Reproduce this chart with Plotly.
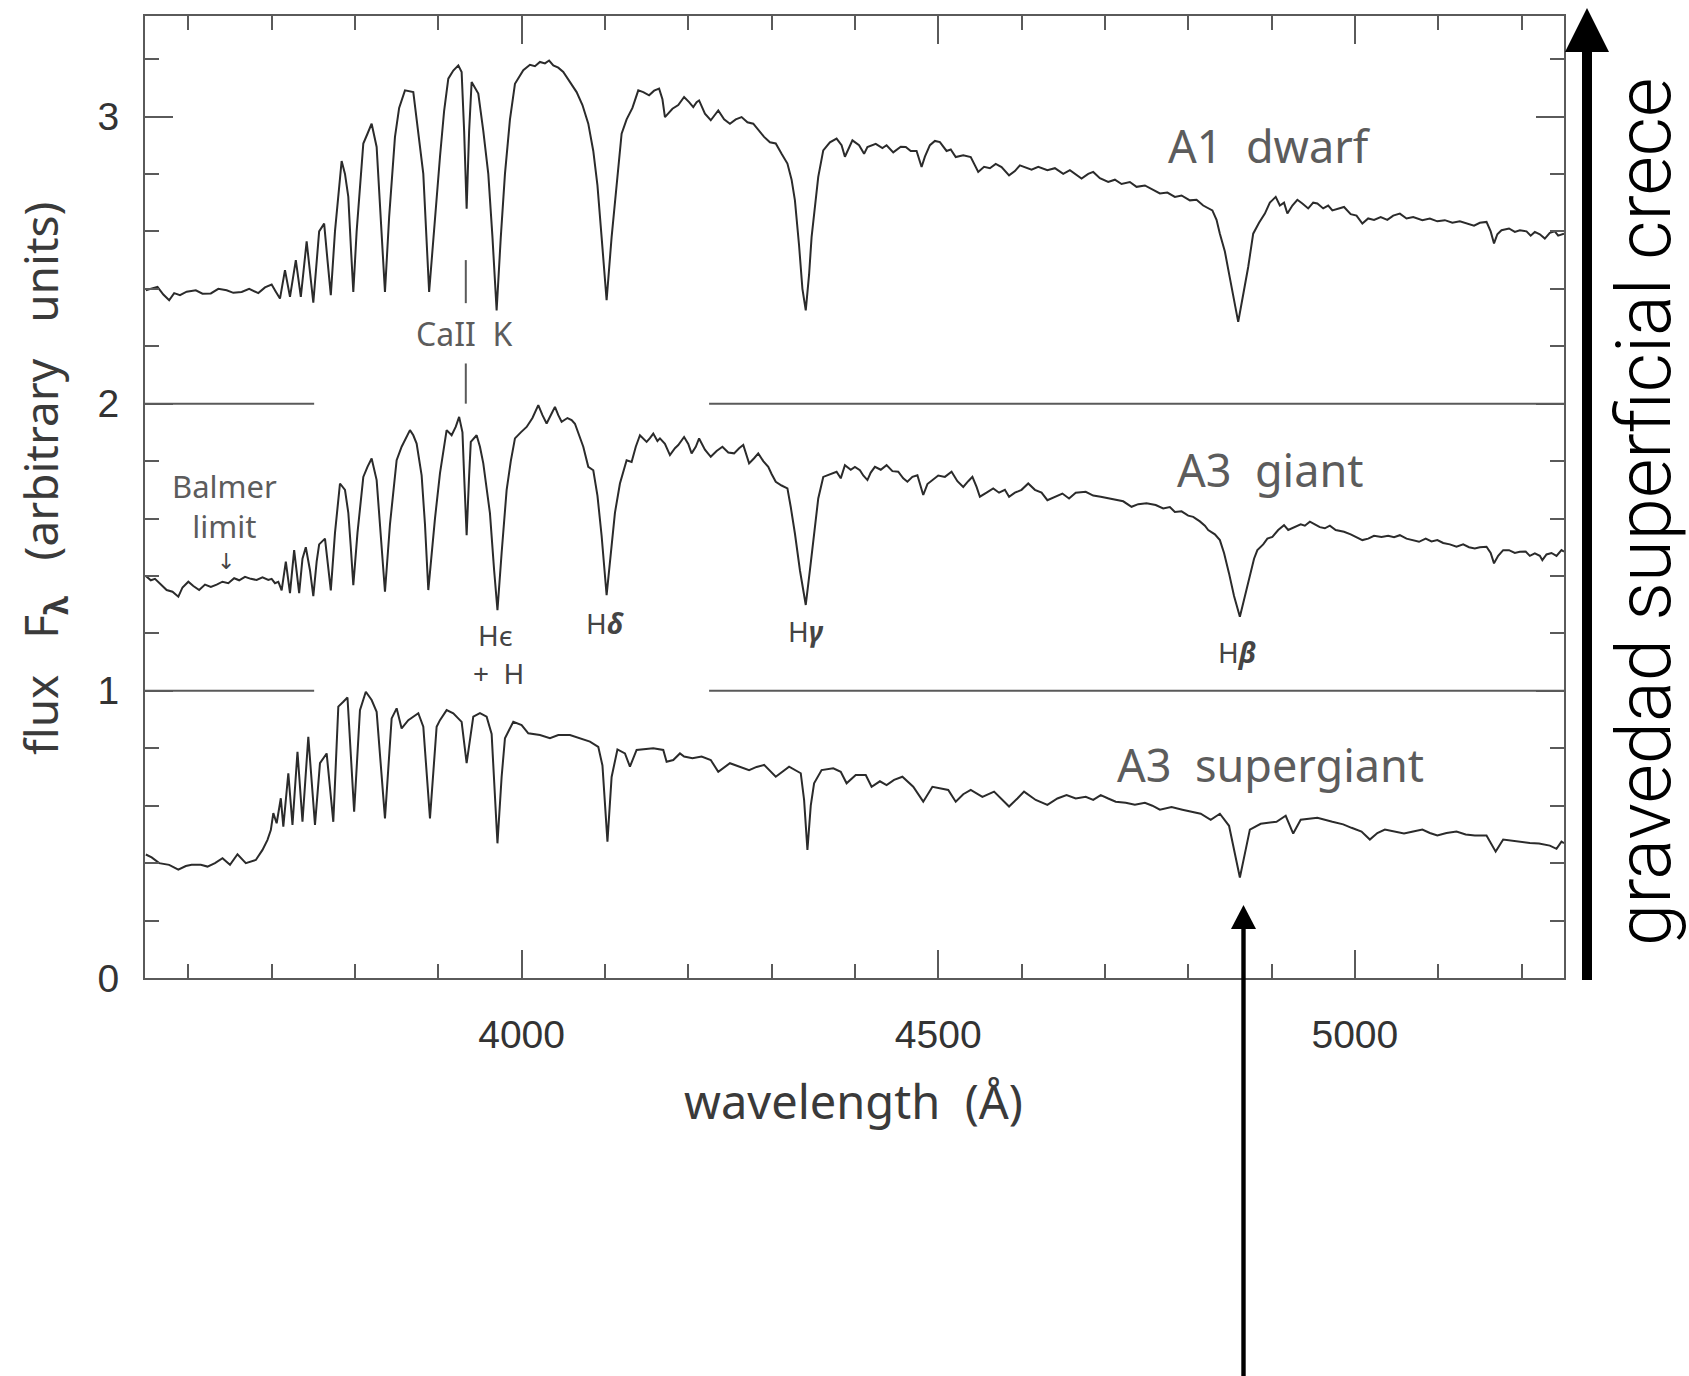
import plotly.graph_objects as go

# ---------------- data ----------------
lam_dwarf = [3549, 3556, 3563, 3570, 3577, 3583, 3590, 3598, 3609, 3617, 3627, 3636, 3646, 3654, 3664, 3673,
             3684, 3692, 3700, 3705, 3710, 3716, 3722, 3729, 3735, 3742, 3746, 3750, 3757, 3763, 3767, 3771,
             3776, 3784, 3788, 3792, 3795, 3798, 3802, 3810, 3815, 3820, 3826, 3831, 3836, 3841, 3848, 3853,
             3860, 3870, 3876, 3882, 3889, 3895, 3902, 3907, 3912, 3918, 3924, 3928, 3931, 3934, 3937, 3940,
             3948, 3954, 3960, 3965, 3970, 3975, 3980, 3986, 3992, 4002, 4010, 4016, 4022, 4028, 4033, 4038,
             4044, 4050, 4058, 4066, 4073, 4080, 4086, 4091, 4096, 4102, 4108, 4114, 4120, 4126, 4133, 4140,
             4146, 4153, 4159, 4165, 4169, 4172, 4176, 4181, 4188, 4195, 4201, 4206, 4210, 4213, 4220, 4227,
             4236, 4243, 4250, 4257, 4264, 4271, 4278, 4285, 4291, 4298, 4305, 4312, 4319, 4324, 4328, 4333,
             4337, 4341, 4345, 4348, 4351, 4356, 4362, 4370, 4378, 4384, 4388, 4397, 4405, 4411, 4415, 4425,
             4433, 4438, 4446, 4455, 4461, 4467, 4474, 4480, 4484, 4490, 4496, 4502, 4510, 4515, 4521, 4530,
             4539, 4544, 4548, 4555, 4562, 4569, 4576, 4585, 4592, 4598, 4603, 4612, 4620, 4631, 4640, 4650,
             4658, 4665, 4672, 4680, 4686, 4694, 4704, 4712, 4720, 4730, 4738, 4748, 4757, 4766, 4775, 4784,
             4792, 4802, 4810, 4818, 4829, 4834, 4838, 4844, 4849, 4855, 4860, 4866, 4872, 4878, 4885, 4892,
             4898, 4905, 4910, 4915, 4919, 4925, 4931, 4937, 4944, 4950, 4955, 4962, 4968, 4973, 4980, 4987,
             4995, 5002, 5009, 5016, 5023, 5031, 5039, 5046, 5054, 5062, 5070, 5081, 5090, 5099, 5108, 5117,
             5126, 5135, 5143, 5150, 5158, 5163, 5167, 5171, 5176, 5185, 5192, 5198, 5206, 5211, 5216, 5222,
             5228, 5234, 5240, 5244, 5251]
flux_dwarf = [2.395, 2.40, 2.407, 2.38, 2.36, 2.385, 2.378, 2.39, 2.395, 2.383, 2.384, 2.40, 2.395, 2.386, 2.389, 2.40,
              2.385, 2.405, 2.415, 2.39, 2.366, 2.465, 2.372, 2.50, 2.372, 2.565, 2.45, 2.352, 2.60, 2.627, 2.50, 2.378,
              2.60, 2.845, 2.80, 2.72, 2.55, 2.389, 2.60, 2.906, 2.94, 2.975, 2.894, 2.65, 2.389, 2.65, 2.929, 3.03,
              3.091, 3.085, 2.95, 2.80, 2.389, 2.62, 2.859, 3.02, 3.132, 3.16, 3.178, 3.155, 2.95, 2.679, 2.95, 3.12,
              3.08, 2.95, 2.80, 2.58, 2.325, 2.58, 2.80, 2.99, 3.114, 3.161, 3.18, 3.175, 3.19, 3.185, 3.195, 3.178,
              3.17, 3.155, 3.12, 3.085, 3.04, 2.975, 2.88, 2.76, 2.58, 2.36, 2.58, 2.77, 2.94, 2.99, 3.03, 3.091,
              3.085, 3.074, 3.09, 3.097, 3.06, 2.998, 3.01, 3.027, 3.04, 3.068, 3.05, 3.033, 3.05, 3.056, 3.01, 2.987,
              3.021, 2.99, 2.975, 2.99, 2.998, 2.98, 2.975, 2.95, 2.929, 2.91, 2.906, 2.87, 2.836, 2.78, 2.708, 2.55,
              2.40, 2.325, 2.45, 2.58, 2.662, 2.79, 2.882, 2.91, 2.923, 2.90, 2.86, 2.917, 2.90, 2.87, 2.894, 2.905,
              2.89, 2.90, 2.875, 2.895, 2.894, 2.88, 2.88, 2.824, 2.86, 2.90, 2.915, 2.911, 2.88, 2.885, 2.859, 2.865,
              2.859, 2.83, 2.807, 2.825, 2.82, 2.835, 2.824, 2.795, 2.81, 2.83, 2.824, 2.815, 2.825, 2.813, 2.82, 2.80,
              2.813, 2.80, 2.784, 2.80, 2.807, 2.785, 2.772, 2.78, 2.765, 2.772, 2.755, 2.76, 2.745, 2.732, 2.735, 2.72,
              2.725, 2.708, 2.71, 2.69, 2.673, 2.64, 2.592, 2.53, 2.453, 2.36, 2.285, 2.38, 2.476, 2.592, 2.63, 2.662,
              2.70, 2.72, 2.69, 2.70, 2.662, 2.69, 2.71, 2.697, 2.68, 2.70, 2.697, 2.68, 2.69, 2.673, 2.68, 2.685,
              2.66, 2.655, 2.627, 2.645, 2.64, 2.65, 2.64, 2.655, 2.662, 2.645, 2.65, 2.639, 2.645, 2.635, 2.639, 2.63,
              2.635, 2.627, 2.62, 2.63, 2.633, 2.60, 2.558, 2.59, 2.604, 2.61, 2.598, 2.604, 2.60, 2.585, 2.598, 2.59,
              2.575, 2.595, 2.60, 2.585, 2.592]

lam_giant = [3549, 3555, 3560, 3567, 3574, 3581, 3588, 3593, 3600, 3606, 3613, 3620, 3627, 3634, 3641, 3648,
             3655, 3661, 3668, 3675, 3682, 3689, 3696, 3700, 3704, 3708, 3712, 3717, 3722, 3727, 3733, 3737,
             3741, 3746, 3750, 3754, 3757, 3764, 3768, 3771, 3776, 3782, 3788, 3792, 3795, 3798, 3803, 3810,
             3815, 3820, 3826, 3831, 3836, 3842, 3850, 3856, 3861, 3866, 3870, 3874, 3880, 3884, 3888, 3893,
             3896, 3902, 3906, 3910, 3916, 3921, 3925, 3929, 3931, 3934, 3937, 3939, 3946, 3950, 3954, 3958,
             3962, 3967, 3971, 3976, 3982, 3987, 3992, 3999, 4006, 4013, 4020, 4025, 4030, 4036, 4040, 4044,
             4048, 4055, 4060, 4064, 4068, 4074, 4080, 4086, 4091, 4096, 4102, 4107, 4112, 4118, 4122, 4126,
             4132, 4137, 4142, 4150, 4154, 4158, 4163, 4166, 4172, 4178, 4184, 4188, 4195, 4200, 4204, 4209,
             4213, 4220, 4227, 4234, 4241, 4248, 4255, 4261, 4266, 4270, 4273, 4279, 4284, 4290, 4296, 4300,
             4305, 4312, 4319, 4323, 4328, 4334, 4341, 4346, 4351, 4356, 4362, 4370, 4378, 4383, 4388, 4395,
             4400, 4406, 4410, 4415, 4419, 4424, 4431, 4438, 4445, 4452, 4458, 4463, 4469, 4475, 4482, 4487,
             4493, 4500, 4508, 4516, 4523, 4530, 4536, 4541, 4546, 4550, 4558, 4566, 4573, 4580, 4585, 4592,
             4600, 4608, 4616, 4624, 4631, 4640, 4649, 4657, 4665, 4677, 4686, 4695, 4704, 4713, 4722, 4732,
             4740, 4750, 4761, 4770, 4778, 4784, 4792, 4800, 4806, 4814, 4820, 4824, 4832, 4838, 4843, 4849,
             4855, 4862, 4868, 4874, 4879, 4883, 4890, 4895, 4901, 4908, 4915, 4920, 4928, 4935, 4940, 4946,
             4952, 4958, 4964, 4970, 4977, 4987, 4995, 5002, 5009, 5016, 5023, 5032, 5040, 5047, 5054, 5062,
             5070, 5077, 5085, 5092, 5099, 5106, 5114, 5122, 5130, 5137, 5144, 5150, 5158, 5163, 5167, 5172,
             5178, 5185, 5192, 5198, 5205, 5210, 5216, 5222, 5225, 5230, 5236, 5242, 5248, 5251]
flux_giant = [1.40, 1.385, 1.39, 1.37, 1.351, 1.345, 1.328, 1.36, 1.38, 1.365, 1.351, 1.37, 1.362, 1.37, 1.38, 1.375,
              1.392, 1.385, 1.397, 1.39, 1.386, 1.395, 1.386, 1.39, 1.375, 1.38, 1.35, 1.45, 1.34, 1.49, 1.34, 1.46,
              1.50, 1.42, 1.33, 1.45, 1.51, 1.53, 1.42, 1.35, 1.55, 1.722, 1.70, 1.62, 1.50, 1.368, 1.55, 1.745,
              1.78, 1.809, 1.734, 1.55, 1.345, 1.58, 1.803, 1.85, 1.88, 1.908, 1.89, 1.861, 1.75, 1.58, 1.351, 1.52,
              1.60, 1.757, 1.84, 1.908, 1.89, 1.92, 1.954, 1.90, 1.75, 1.542, 1.75, 1.867, 1.89, 1.85, 1.792, 1.70,
              1.618, 1.42, 1.281, 1.48, 1.699, 1.80, 1.879, 1.90, 1.919, 1.95, 1.995, 1.96, 1.931, 1.966, 1.989, 1.96,
              1.937, 1.95, 1.943, 1.93, 1.896, 1.85, 1.78, 1.768, 1.68, 1.54, 1.333, 1.48, 1.62, 1.722, 1.76, 1.803,
              1.797, 1.85, 1.89, 1.867, 1.88, 1.896, 1.87, 1.879, 1.86, 1.821, 1.845, 1.856, 1.884, 1.86, 1.827, 1.85,
              1.879, 1.84, 1.815, 1.835, 1.85, 1.83, 1.827, 1.845, 1.856, 1.82, 1.792, 1.81, 1.827, 1.80, 1.78, 1.755,
              1.728, 1.715, 1.705, 1.64, 1.548, 1.42, 1.299, 1.42, 1.548, 1.67, 1.745, 1.755, 1.763, 1.74, 1.786, 1.77,
              1.78, 1.768, 1.75, 1.734, 1.76, 1.78, 1.77, 1.786, 1.765, 1.763, 1.74, 1.728, 1.745, 1.751, 1.682, 1.72,
              1.734, 1.75, 1.745, 1.763, 1.73, 1.71, 1.73, 1.745, 1.71, 1.676, 1.69, 1.705, 1.69, 1.70, 1.676, 1.69,
              1.70, 1.722, 1.70, 1.69, 1.664, 1.675, 1.687, 1.67, 1.69, 1.693, 1.68, 1.676, 1.67, 1.664, 1.66, 1.641,
              1.65, 1.653, 1.647, 1.635, 1.64, 1.623, 1.625, 1.61, 1.606, 1.59, 1.575, 1.56, 1.545, 1.525, 1.48, 1.409,
              1.33, 1.258, 1.33, 1.409, 1.46, 1.49, 1.51, 1.53, 1.536, 1.56, 1.577, 1.56, 1.571, 1.58, 1.575, 1.589,
              1.58, 1.57, 1.566, 1.575, 1.56, 1.554, 1.545, 1.535, 1.525, 1.53, 1.54, 1.536, 1.54, 1.535, 1.542, 1.53,
              1.525, 1.519, 1.53, 1.52, 1.525, 1.515, 1.51, 1.502, 1.51, 1.50, 1.496, 1.50, 1.502, 1.48, 1.444, 1.47,
              1.49, 1.49, 1.48, 1.484, 1.485, 1.47, 1.479, 1.47, 1.455, 1.475, 1.48, 1.47, 1.49, 1.485]

lam_super = [3549, 3556, 3565, 3577, 3588, 3597, 3604, 3615, 3623, 3632, 3641, 3647, 3650, 3659, 3669, 3681,
             3689, 3695, 3699, 3702, 3706, 3711, 3714, 3720, 3725, 3731, 3737, 3744, 3752, 3758, 3766, 3774,
             3780, 3786, 3791, 3799, 3806, 3813, 3820, 3826, 3836, 3844, 3850, 3856, 3864, 3876, 3882, 3890,
             3898, 3902, 3910, 3918, 3928, 3934, 3942, 3950, 3958, 3964, 3971, 3976, 3980, 3990, 4000, 4008,
             4022, 4034, 4044, 4058, 4070, 4082, 4092, 4097, 4103, 4108, 4115, 4124, 4130, 4138, 4158, 4170,
             4174, 4182, 4190, 4195, 4205, 4216, 4227, 4236, 4250, 4262, 4273, 4282, 4291, 4305, 4321, 4335,
             4339, 4343, 4347, 4351, 4360, 4374, 4383, 4390, 4401, 4413, 4420, 4430, 4438, 4447, 4457, 4470,
             4482, 4493, 4503, 4512, 4521, 4530, 4539, 4553, 4567, 4585, 4595, 4603, 4617, 4631, 4643, 4654,
             4665, 4677, 4686, 4695, 4704, 4713, 4725, 4736, 4748, 4757, 4766, 4780, 4793, 4805, 4815, 4827,
             4838, 4849, 4856, 4862, 4869, 4874, 4887, 4906, 4917, 4926, 4935, 4955, 4973, 4986, 4996, 5008,
             5018, 5027, 5036, 5048, 5059, 5070, 5081, 5090, 5099, 5110, 5122, 5133, 5144, 5158, 5169, 5178,
             5188, 5198, 5210, 5221, 5234, 5242, 5248, 5251]
flux_super = [0.43, 0.42, 0.40, 0.394, 0.377, 0.39, 0.394, 0.394, 0.388, 0.40, 0.417, 0.40, 0.394, 0.431, 0.40, 0.411,
              0.446, 0.481, 0.515, 0.574, 0.539, 0.626, 0.527, 0.713, 0.533, 0.788, 0.544, 0.84, 0.533, 0.748, 0.782, 0.544,
              0.945, 0.962, 0.977, 0.579, 0.933, 0.997, 0.968, 0.927, 0.556, 0.904, 0.939, 0.869, 0.898, 0.922, 0.875, 0.556,
              0.875, 0.898, 0.933, 0.922, 0.892, 0.748, 0.91, 0.922, 0.91, 0.85, 0.469, 0.70, 0.835, 0.892, 0.881, 0.852,
              0.846, 0.835, 0.846, 0.846, 0.835, 0.823, 0.805, 0.74, 0.475, 0.70, 0.796, 0.782, 0.736, 0.794, 0.80, 0.794,
              0.753, 0.759, 0.782, 0.771, 0.765, 0.771, 0.759, 0.718, 0.748, 0.735, 0.724, 0.735, 0.742, 0.701, 0.736, 0.713,
              0.62, 0.446, 0.60, 0.678, 0.724, 0.73, 0.718, 0.678, 0.707, 0.707, 0.666, 0.685, 0.672, 0.69, 0.701, 0.666,
              0.614, 0.666, 0.66, 0.655, 0.614, 0.64, 0.655, 0.631, 0.649, 0.597, 0.625, 0.649, 0.62, 0.603, 0.625, 0.637,
              0.625, 0.631, 0.62, 0.637, 0.625, 0.614, 0.61, 0.603, 0.61, 0.60, 0.586, 0.595, 0.586, 0.578, 0.572, 0.551,
              0.572, 0.53, 0.433, 0.35, 0.447, 0.517, 0.537, 0.544, 0.565, 0.503, 0.551, 0.558, 0.544, 0.535, 0.523, 0.51,
              0.482, 0.505, 0.517, 0.51, 0.503, 0.51, 0.517, 0.505, 0.496, 0.505, 0.51, 0.50, 0.496, 0.496, 0.44, 0.482,
              0.478, 0.475, 0.47, 0.468, 0.461, 0.45, 0.475, 0.47]

x_tick_values = [4000, 4500, 5000]
x_tick_labels = ["4000", "4500", "5000"]
y_tick_values = [0, 1, 2, 3]
y_tick_labels = ["0", "1", "2", "3"]

# star labels: (text, wavelength, flux)
star_labels = [("A1\u00a0\u00a0dwarf", 4898, 2.90),
               ("A3\u00a0\u00a0giant", 4898, 1.77),
               ("A3\u00a0\u00a0supergiant", 4899, 0.745)]
# line labels: (text, wavelength, flux)
line_labels = [("H\u03f5", 3969, 1.195),
               ("+\u00a0\u00a0H", 3972, 1.062),
               ("H<b><i>\u03b4</i></b>", 4101, 1.235),
               ("H<b><i>\u03b3</i></b>", 4341, 1.21),
               ("H<b><i>\u03b2</i></b>", 4859, 1.135)]

# ---------------- layout geometry ----------------
W, H = 1689, 1376
ML, MR, MT, MB = 145, 125, 16, 398
X_RANGE = [3548, 5251]
Y_RANGE = [0, 3.35]
PW = W - ML - MR
PH = H - MT - MB


def px(xpix):
    return (xpix - ML) / PW


def py(ypix):
    return (H - MB - ypix) / PH


LINE_COL = "#2b2b2b"
AX_COL = "#5a5a5a"
TXT_COL = "#5c5c5c"
LABEL_FONT = "Noto Sans"

fig = go.Figure()
for lam, flux in [(lam_dwarf, flux_dwarf), (lam_giant, flux_giant), (lam_super, flux_super)]:
    fig.add_trace(go.Scatter(x=lam, y=flux, mode="lines",
                             line=dict(color=LINE_COL, width=2),
                             hoverinfo="skip", showlegend=False))

common = dict(showline=True, linecolor=AX_COL, linewidth=2, mirror="ticks",
              ticks="inside", tickcolor=AX_COL, tickwidth=2, ticklen=28,
              showgrid=False, zeroline=False,
              tickfont=dict(family="Liberation Sans", size=39, color="#333333"))

fig.update_xaxes(range=X_RANGE, tickmode="array", tickvals=x_tick_values, ticktext=x_tick_labels,
                 minor=dict(ticks="inside", tick0=3600, dtick=100, ticklen=14,
                            tickcolor=AX_COL, tickwidth=2, showgrid=False),
                 ticklabelstandoff=21, **common)
fig.update_yaxes(range=Y_RANGE, tickmode="array", tickvals=y_tick_values, ticktext=y_tick_labels,
                 minor=dict(ticks="inside", tick0=0, dtick=0.2, ticklen=14,
                            tickcolor=AX_COL, tickwidth=2, showgrid=False),
                 ticklabelstandoff=16, **common)

shapes = []
# separator lines at flux 1 and 2 (broken in the middle)
for yv in (1, 2):
    shapes.append(dict(type="line", xref="x", yref="y", x0=X_RANGE[0], x1=3751, y0=yv, y1=yv,
                       line=dict(color=AX_COL, width=2)))
    shapes.append(dict(type="line", xref="x", yref="y", x0=4225, x1=X_RANGE[1], y0=yv, y1=yv,
                       line=dict(color=AX_COL, width=2)))
# Ca II K marker dashes
for y0, y1 in ((2.35, 2.50), (2.0, 2.14)):
    shapes.append(dict(type="line", xref="x", yref="y", x0=3933, x1=3933, y0=y0, y1=y1,
                       line=dict(color=AX_COL, width=2)))

# big right arrow (surface gravity increases)
ax_c = px(1587)
shapes.append(dict(type="rect", xref="paper", yref="paper",
                   x0=ax_c - 5 / PW, x1=ax_c + 5 / PW, y0=py(980), y1=py(50),
                   fillcolor="black", line=dict(width=0)))
shapes.append(dict(type="path", xref="paper", yref="paper",
                   path=f"M {ax_c - 22 / PW} {py(52)} L {ax_c + 22 / PW} {py(52)} L {ax_c} {py(8)} Z",
                   fillcolor="black", line=dict(width=0)))
# bottom arrow pointing at H-beta of the supergiant
bx_c = px(1243.5)
shapes.append(dict(type="rect", xref="paper", yref="paper",
                   x0=bx_c - 2.2 / PW, x1=bx_c + 2.2 / PW, y0=py(1380), y1=py(927),
                   fillcolor="black", line=dict(width=0)))
shapes.append(dict(type="path", xref="paper", yref="paper",
                   path=f"M {bx_c - 12.5 / PW} {py(929)} L {bx_c + 12.5 / PW} {py(929)} L {bx_c} {py(905)} Z",
                   fillcolor="black", line=dict(width=0)))

annotations = []
for text, lx, ly in star_labels:
    annotations.append(dict(text=text, x=lx, y=ly, xref="x", yref="y", showarrow=False,
                            font=dict(family=LABEL_FONT, size=45, color=TXT_COL),
                            xanchor="center", yanchor="middle"))
for text, lx, ly in line_labels:
    annotations.append(dict(text=text, x=lx, y=ly, xref="x", yref="y", showarrow=False,
                            font=dict(family=LABEL_FONT, size=28, color="#444444"),
                            xanchor="center", yanchor="middle"))
annotations.append(dict(text="CaII\u00a0\u00a0K", x=3932, y=2.245, xref="x", yref="y", showarrow=False,
                        font=dict(family=LABEL_FONT, size=32, color=TXT_COL),
                        xanchor="center", yanchor="middle"))
annotations.append(dict(text="Balmer<br>limit", x=3643, y=1.645, xref="x", yref="y", showarrow=False,
                        font=dict(family=LABEL_FONT, size=31, color=TXT_COL),
                        xanchor="center", yanchor="middle"))
annotations.append(dict(text="\u2193", x=3645, y=1.45, xref="x", yref="y", showarrow=False,
                        font=dict(family="DejaVu Sans", size=22, color="#444444"),
                        xanchor="center", yanchor="middle"))
# axis titles
annotations.append(dict(text="wavelength\u00a0\u00a0(\u00c5)", x=px(853), y=py(1101),
                        xref="paper", yref="paper", showarrow=False,
                        font=dict(family=LABEL_FONT, size=47, color="#3a3a3a"),
                        xanchor="center", yanchor="middle"))
annotations.append(dict(text="flux\u00a0\u00a0\u00a0F<sub><b>\u03bb</b></sub>\u00a0\u00a0\u00a0(arbitrary\u00a0\u00a0\u00a0units)",
                        x=px(43), y=py(479), xref="paper", yref="paper", showarrow=False,
                        textangle=-90,
                        font=dict(family=LABEL_FONT, size=46, color="#3a3a3a"),
                        xanchor="center", yanchor="middle"))
annotations.append(dict(text="gravedad superficial crece", x=px(1644), y=py(512),
                        xref="paper", yref="paper", showarrow=False, textangle=-90,
                        font=dict(family="Roboto", size=76, color="black", weight=300),
                        xanchor="center", yanchor="middle"))

fig.update_layout(width=W, height=H, margin=dict(l=ML, r=MR, t=MT, b=MB, autoexpand=False),
                  plot_bgcolor="white", paper_bgcolor="white",
                  shapes=shapes, annotations=annotations, showlegend=False)

fig.write_html("out.html")
